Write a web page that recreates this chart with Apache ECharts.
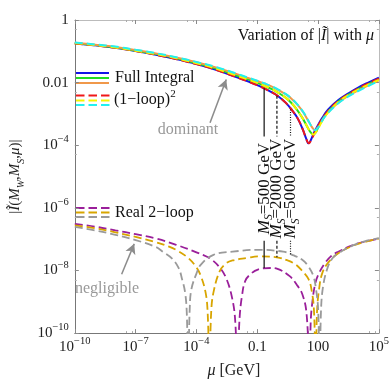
<!DOCTYPE html>
<html>
<head>
<meta charset="utf-8">
<script src="https://cdn.jsdelivr.net/npm/echarts@6/dist/echarts.min.js"></script>
<style>
html, body { margin: 0; padding: 0; background: #fff; }
#chart { width: 392px; height: 384px; }
</style>
</head>
<body>
<div id="chart"></div>
<script>
// pairs are [log10(mu / GeV), log10(|I|)]
let fullInt500 = [[-10,-0.75],[-9,-0.81],[-8,-0.89],[-7,-0.99],[-6,-1.11],[-5,-1.25],[-4,-1.41],[-3,-1.6],[-2,-1.83],[-1.5,-1.95],[-1,-2.08],[-0.66,-2.18],[-0.3,-2.3],[0,-2.42],[0.4,-2.64],[0.7,-2.87],[1.0,-3.15],[1.25,-3.5],[1.42,-3.8],[1.53,-3.94],[1.64,-3.84],[1.8,-3.6],[2.0,-3.35],[2.2,-3.13],[2.5,-2.86],[3.0,-2.56],[3.5,-2.34],[4.0,-2.15],[4.5,-1.99],[5,-1.84]]
let fullInt2000 = [[-10,-0.74],[-9,-0.8],[-8,-0.88],[-7,-0.98],[-6,-1.09],[-5,-1.22],[-4,-1.38],[-3,-1.56],[-2,-1.78],[-1.5,-1.89],[-1,-2.01],[-0.66,-2.1],[-0.3,-2.2],[0,-2.31],[0.4,-2.48],[0.7,-2.66],[1.0,-2.9],[1.25,-3.15],[1.5,-3.45],[1.65,-3.6],[1.77,-3.66],[1.89,-3.58],[2.0,-3.44],[2.2,-3.2],[2.5,-2.92],[3.0,-2.6],[3.5,-2.38],[4.0,-2.2],[4.5,-2.04],[5,-1.89]]
let fullInt5000 = [[-10,-0.73],[-9,-0.79],[-8,-0.86],[-7,-0.96],[-6,-1.07],[-5,-1.2],[-4,-1.35],[-3,-1.52],[-2,-1.73],[-1.5,-1.84],[-1,-1.95],[-0.66,-2.03],[-0.3,-2.12],[0,-2.22],[0.4,-2.37],[0.7,-2.52],[1.0,-2.72],[1.25,-2.93],[1.5,-3.2],[1.7,-3.42],[1.84,-3.52],[1.97,-3.44],[2.1,-3.3],[2.3,-3.1],[2.5,-2.94],[3.0,-2.64],[3.5,-2.42],[4.0,-2.24],[4.5,-2.08],[5,-1.93]]
let oneLoop500 = [[-10,-0.75],[-9,-0.81],[-8,-0.89],[-7,-0.99],[-6,-1.11],[-5,-1.25],[-4,-1.41],[-3,-1.6],[-2,-1.83],[-1.5,-1.95],[-1,-2.08],[-0.66,-2.18],[-0.3,-2.3],[0,-2.42],[0.4,-2.64],[0.7,-2.87],[1.0,-3.15],[1.25,-3.5],[1.42,-3.8],[1.54,-3.94],[1.66,-3.84],[1.82,-3.62],[2.0,-3.39],[2.2,-3.17],[2.5,-2.9],[3.0,-2.59],[3.5,-2.37],[4.0,-2.18],[4.5,-2.02],[5,-1.87]]
let oneLoop2000 = [[-10,-0.74],[-9,-0.8],[-8,-0.88],[-7,-0.98],[-6,-1.09],[-5,-1.22],[-4,-1.38],[-3,-1.56],[-2,-1.78],[-1.5,-1.89],[-1,-2.01],[-0.66,-2.1],[-0.3,-2.2],[0,-2.31],[0.4,-2.48],[0.7,-2.66],[1.0,-2.9],[1.25,-3.15],[1.5,-3.45],[1.65,-3.6],[1.78,-3.66],[1.9,-3.58],[2.02,-3.45],[2.2,-3.23],[2.5,-2.95],[3.0,-2.62],[3.5,-2.4],[4.0,-2.22],[4.5,-2.06],[5,-1.91]]
let oneLoop5000 = [[-10,-0.72],[-9,-0.78],[-8,-0.85],[-7,-0.95],[-6,-1.06],[-5,-1.19],[-4,-1.34],[-3,-1.51],[-2,-1.72],[-1.5,-1.83],[-1,-1.94],[-0.66,-2.02],[-0.3,-2.11],[0,-2.21],[0.4,-2.36],[0.7,-2.51],[1.0,-2.71],[1.25,-2.92],[1.5,-3.19],[1.7,-3.42],[1.85,-3.52],[1.98,-3.45],[2.11,-3.31],[2.3,-3.12],[2.5,-2.96],[3.0,-2.66],[3.5,-2.44],[4.0,-2.26],[4.5,-2.1],[5,-1.95]]
let real500 = [[-10,-6.51],[-9,-6.6],[-8,-6.72],[-7,-6.84],[-6,-6.98],[-5,-7.18],[-4,-7.42],[-3.3,-7.63],[-2.8,-7.95],[-2.5,-8.3],[-2.25,-8.85],[-2.1,-9.5],[-1.98,-11],[-1.87,-9.5],[-1.75,-8.8],[-1.59,-8.33],[-1.3,-8.1],[-0.97,-7.97],[-0.34,-7.92],[0.0,-7.95],[0.6,-8.18],[1.0,-8.5],[1.22,-8.75],[1.42,-9.3],[1.58,-11],[1.64,-9.6],[1.72,-9.0],[1.85,-8.45],[2.0,-8.15],[2.3,-7.8],[2.63,-7.55],[3.0,-7.4],[3.72,-7.19],[4.3,-7.08],[5,-6.98]]
let real2000 = [[-10,-6.56],[-9,-6.65],[-8,-6.78],[-7,-6.93],[-6,-7.1],[-5.35,-7.24],[-4.9,-7.38],[-4.41,-7.6],[-4.0,-7.9],[-3.78,-8.18],[-3.55,-8.7],[-3.45,-9.3],[-3.36,-11],[-3.27,-9.3],[-3.16,-8.7],[-2.85,-8.02],[-2.53,-7.77],[-2.22,-7.68],[-1.5,-7.6],[-0.97,-7.55],[-0.03,-7.58],[0.5,-7.68],[0.9,-7.81],[1.2,-8.0],[1.53,-8.28],[1.7,-8.7],[1.8,-9.3],[1.88,-11],[1.95,-9.3],[2.05,-8.6],[2.2,-8.1],[2.5,-7.75],[3.0,-7.45],[3.72,-7.21],[4.3,-7.09],[5,-6.98]]
let real5000 = [[-10,-6.61],[-9,-6.72],[-8,-6.86],[-7,-7.03],[-6,-7.25],[-5.66,-7.4],[-5.2,-7.62],[-4.88,-7.92],[-4.7,-8.3],[-4.56,-8.7],[-4.48,-9.3],[-4.41,-11],[-4.33,-9.2],[-4.25,-8.6],[-4.0,-8.1],[-3.78,-7.81],[-3.16,-7.5],[-2.22,-7.4],[-1,-7.34],[0.28,-7.4],[0.8,-7.52],[1.22,-7.66],[1.5,-7.85],[1.77,-8.18],[1.9,-8.6],[2.0,-9.2],[2.08,-11],[2.15,-9.2],[2.25,-8.5],[2.45,-7.95],[2.7,-7.62],[3.0,-7.45],[3.72,-7.2],[4.3,-7.07],[5,-6.97]]

// M_S marker lines: position on mu axis, top end (on full curve), bottom end (on real 2-loop curve)
let msLabels = ['500', '2000', '5000']
let msMu = [-0.66, -0.03, 0.64]
let msTop = [-2.18, -2.42, -2.86]
let msBottom = [-7.92, -7.58, -7.48]

let serif = 'Liberation Serif'
let toPts = (arr) => arr.map(p => [Math.pow(10, p[0]), Math.pow(10, p[1])])
let lg = (e) => Math.pow(10, e)

let powLabel = (v) => {
	let e = Math.round(Math.log10(v))
	if (e === 0) return '1'
	if (e === -2) return '0.01'
	if (e === -1) return '0.1'
	if (e === 2) return '100'
	return '{b|10}{sup|' + (e < 0 ? '\u2212' + (-e) : e) + '}'
}

let labelRich = {
	b: { fontFamily: serif, fontSize: 15, lineHeight: 22, color: '#222' },
	sup: { fontFamily: serif, fontSize: 10.5, lineHeight: 10, verticalAlign: 'top', color: '#222' }
}

let frame = '#8a8a8a'
let mkX = (pos) => ({
	type: 'log', logBase: 10, position: pos,
	min: 1e-10, max: 1e5, interval: 3,
	axisLine: { show: true, onZero: false, lineStyle: { color: pos === 'bottom' ? '#777' : '#bbb', width: 1 } },
	axisTick: { show: true, inside: true, length: 4, lineStyle: { color: frame } },
	minorTick: { show: true, splitNumber: 3, length: 2, lineStyle: { color: '#aaa' } },
	splitLine: { show: false },
	axisLabel: pos === 'bottom' ? {
		show: true, margin: 3, formatter: powLabel, rich: labelRich,
		fontFamily: serif, fontSize: 15, lineHeight: 22, color: '#222'
	} : { show: false },
	name: pos === 'bottom' ? '{i|\u03bc} [GeV]' : '',
	nameLocation: 'middle', nameGap: 27,
	nameTextStyle: {
		fontFamily: serif, fontSize: 16, color: '#222', padding: [0, 0, 0, 14],
		rich: { i: { fontFamily: serif, fontSize: 16, fontStyle: 'italic', color: '#222' } }
	}
})
let mkY = (pos) => ({
	type: 'log', logBase: 10, position: pos,
	min: 1e-10, max: 1, interval: 2,
	axisLine: { show: true, onZero: false, lineStyle: { color: pos === 'left' ? '#777' : '#bbb', width: 1 } },
	axisTick: { show: true, inside: true, length: 4, lineStyle: { color: frame } },
	minorTick: { show: true, splitNumber: 2, length: 2, lineStyle: { color: '#aaa' } },
	splitLine: { show: false },
	axisLabel: pos === 'left' ? {
		show: true, margin: 6, formatter: powLabel, rich: labelRich,
		fontFamily: serif, fontSize: 15, lineHeight: 22, color: '#222'
	} : { show: false },
	name: pos === 'left' ? '|{i|\u0128}({i|M}{s|W},{i|M}{s|S},{i|\u03bc})|' : '',
	nameLocation: 'middle', nameGap: 47, nameRotate: 90,
	nameTextStyle: {
		fontFamily: serif, fontSize: 15, color: '#222',
		rich: {
			i: { fontFamily: serif, fontSize: 15, fontStyle: 'italic', lineHeight: 22, color: '#222' },
			s: { fontFamily: serif, fontSize: 10, fontStyle: 'italic', lineHeight: 11, verticalAlign: 'bottom', color: '#222' }
		}
	}
})

let curve = (name, data, color, dashed, width) => ({
	name: name,
	type: 'line',
	data: toPts(data),
	showSymbol: false,
	smooth: 0.4,
	clip: true,
	lineStyle: { color: color, width: width || 2, type: dashed ? [8, 4] : 'solid' },
	emphasis: { disabled: true },
	z: dashed ? 4 : 3
})

let msStyles = ['solid', [3, 2], [1, 1.5]]
let msGapTop = -3.72
let msGapBottom = -7.05
let msSeries = []
msMu.forEach((m, i) => {
	[[msTop[i], msGapTop], [msGapBottom, msBottom[i]]].forEach(seg => {
		msSeries.push({
			type: 'line',
			data: [[lg(m), lg(seg[0])], [lg(m), lg(seg[1])]],
			showSymbol: false,
			lineStyle: { color: '#111', width: 1.2, type: msStyles[i] },
			emphasis: { disabled: true },
			z: 5
		})
	})
})

let arrowGray = '#8c8c8c'
let arrows = {
	silent: true,
	symbol: ['none', 'arrow'],
	symbolSize: [8, 10],
	label: { show: false },
	lineStyle: { color: arrowGray, width: 1.5, type: 'solid' },
	data: [
		[{ coord: [lg(-3.33), lg(-3.28)] }, { coord: [lg(-2.53), lg(-1.9)] }],
		[{ coord: [lg(-7.69), lg(-8.12)] }, { coord: [lg(-7.07), lg(-7.15)] }]
	]
}

let series = [
	curve('Real 2-loop 500', real500, '#9a1f9a', true, 1.8),
	curve('Real 2-loop 2000', real2000, '#d8a500', true, 1.8),
	curve('Real 2-loop 5000', real5000, '#9a9a9a', true, 1.8),
	curve('Full 500', fullInt500, '#1414e6', false),
	curve('Full 2000', fullInt2000, '#22dd22', false),
	curve('Full 5000', fullInt5000, '#f0984a', false),
	curve('1-loop 500', oneLoop500, '#f01818', true),
	curve('1-loop 2000', oneLoop2000, '#f5f500', true),
	curve('1-loop 5000', oneLoop5000, '#22f0f0', true)
].concat(msSeries)
series[2].markLine = arrows

let legendLine = (x1, x2, y, color, dashed) => ({
	type: 'line',
	shape: { x1: x1, y1: y, x2: x2, y2: y },
	style: { stroke: color, lineWidth: 2, lineDash: dashed ? [8.5, 4] : null }
})
let txt = (x, y, text, opt = {}) => ({
	type: 'text', x: x, y: y,
	style: Object.assign({
		text: text, fontFamily: serif, fontSize: 16, fill: '#111',
		align: 'left', verticalAlign: 'middle'
	}, opt)
})
let italic = { fontFamily: serif, fontSize: 16, fontStyle: 'italic', fill: '#111' }

let graphics = [
	legendLine(76, 109, 73, '#1414e6'),
	legendLine(76, 109, 78, '#22dd22'),
	legendLine(76, 109, 83, '#f0984a'),
	legendLine(76, 110, 95.5, '#f01818', true),
	legendLine(76, 110, 100.5, '#f5f500', true),
	legendLine(76, 110, 105, '#22f0f0', true),
	legendLine(76, 110, 208, '#9a1f9a', true),
	legendLine(76, 110, 212.5, '#d8a500', true),
	legendLine(76, 110, 217, '#9a9a9a', true),
	txt(115, 78, 'Full Integral'),
	txt(114, 100, '(1\u2212loop){sup|2}', {
		rich: { sup: { fontFamily: serif, fontSize: 11, lineHeight: 10, verticalAlign: 'top', fill: '#111' } },
		lineHeight: 22
	}),
	txt(115, 213, 'Real 2\u2212loop'),
	txt(374, 36, 'Variation of |{i|\u0128}| with {i|\u03bc}', { align: 'right', rich: { i: italic } }),
	txt(188, 130, 'dominant', { align: 'center', fill: '#999' }),
	txt(107, 289, 'negligible', { align: 'center', fill: '#999' })
]

let chart = echarts.init(document.getElementById('chart'), null, { renderer: 'canvas' })
chart.setOption({
	animation: false,
	backgroundColor: '#fff',
	grid: { left: 61, right: 11, top: 20, bottom: 44, containLabel: false },
	xAxis: [mkX('bottom'), mkX('top')],
	yAxis: [mkY('left'), mkY('right')],
	series: series,
	graphic: graphics
})

// rotated M_S labels sitting in the gap of each marker line
let msText = msMu.map((m, i) => {
	let a = chart.convertToPixel({ xAxisIndex: 0, yAxisIndex: 0 }, [lg(m), lg(msGapTop)])
	let b = chart.convertToPixel({ xAxisIndex: 0, yAxisIndex: 0 }, [lg(m), lg(msGapBottom)])
	return {
		type: 'text',
		x: a[0], y: (a[1] + b[1]) / 2,
		rotation: Math.PI / 2,
		style: {
			text: '{m|M}{s|S}{t|=' + msLabels[i] + ' GeV}',
			align: 'center', verticalAlign: 'middle',
			rich: {
				m: { fontFamily: serif, fontSize: 17, fontStyle: 'italic', lineHeight: 22, fill: '#111' },
				s: { fontFamily: serif, fontSize: 11.5, fontStyle: 'italic', lineHeight: 13, verticalAlign: 'bottom', fill: '#111' },
				t: { fontFamily: serif, fontSize: 17, lineHeight: 22, fill: '#111' }
			}
		}
	}
})
chart.setOption({ graphic: graphics.concat(msText) })
</script>
</body>
</html>
